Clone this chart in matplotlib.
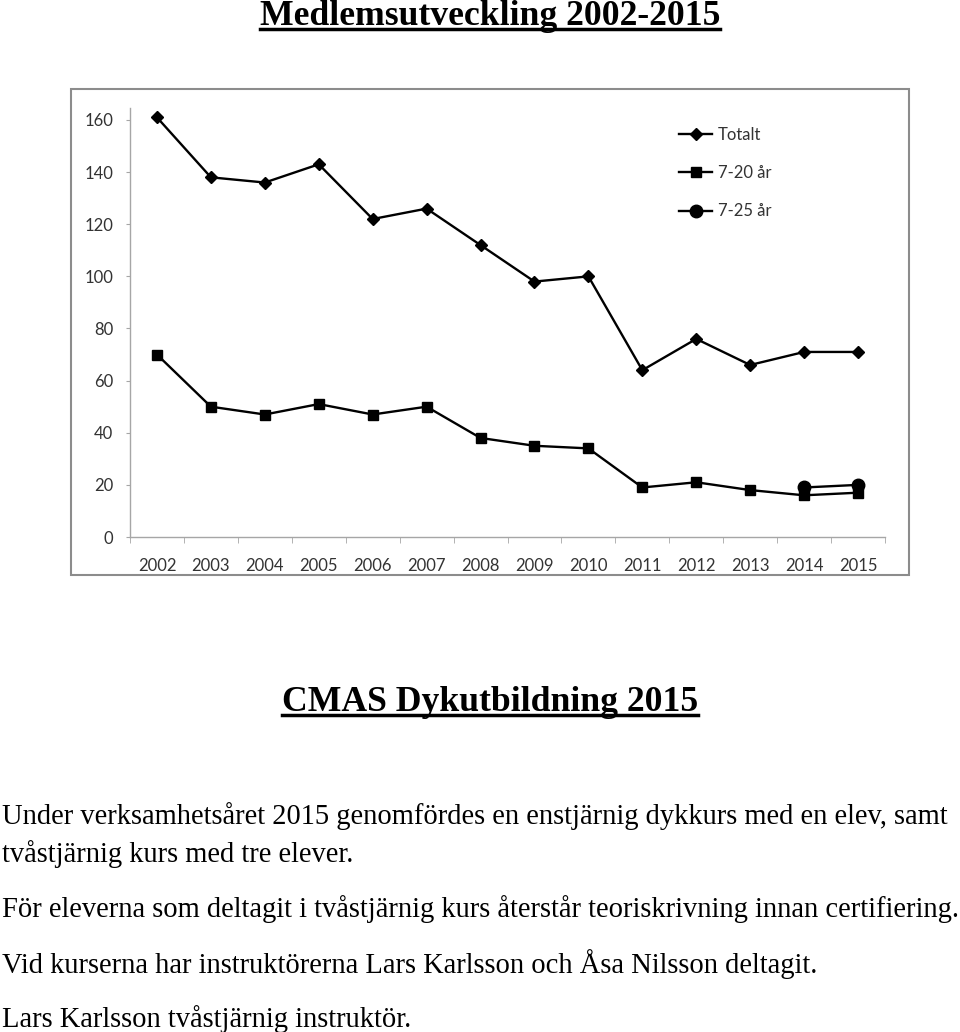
import matplotlib
matplotlib.use("Agg")
import matplotlib.pyplot as plt
from matplotlib.patches import Rectangle
from matplotlib.lines import Line2D

# data
years = [str(y) for y in range(2002, 2016)]
totalt = [161, 138, 136, 143, 122, 126, 112, 98, 100, 64, 76, 66, 71, 71]
ar_7_20 = [70, 50, 47, 51, 47, 50, 38, 35, 34, 19, 21, 18, 16, 17]
ar_7_25_years = ["2014", "2015"]
ar_7_25 = [19, 20]
y_ticks = [0, 20, 40, 60, 80, 100, 120, 140, 160]

title = "Medlemsutveckling 2002-2015"
heading = "CMAS Dykutbildning 2015"
body = [
    "Under verksamhetsåret 2015 genomfördes en enstjärnig dykkurs med en elev, samt",
    "tvåstjärnig kurs med tre elever.",
    "För eleverna som deltagit i tvåstjärnig kurs återstår teoriskrivning innan certifiering.",
    "Vid kurserna har instruktörerna Lars Karlsson och Åsa Nilsson deltagit.",
    "Lars Karlsson tvåstjärnig instruktör.",
]

W, H = 960, 1032
fig = plt.figure(figsize=(9.6, 10.32), dpi=100)


def fx(px):
    return px / W


def fy(py):
    return 1 - py / H


# --- chart frame ---
fig.patches.append(Rectangle((fx(71), fy(575)), fx(909) - fx(71), fy(89) - fy(575),
                             transform=fig.transFigure, fill=False,
                             edgecolor="#8c8c8c", linewidth=1.5))

ax = fig.add_axes([fx(130), fy(537), fx(885) - fx(130), fy(108) - fy(537)])
x = list(range(len(years)))
ax.plot(x, totalt, marker="D", ms=6, color="black", lw=1.7, label="Totalt")
ax.plot(x, ar_7_20, marker="s", ms=7, color="black", lw=1.7, label="7-20 år")
x25 = [years.index(y) for y in ar_7_25_years]
ax.plot(x25, ar_7_25, marker="o", ms=9, color="black", lw=1.7, label="7-25 år")

ax.set_xlim(-0.5, len(years) - 0.5)
ax.set_ylim(0, 164.6)
ax.set_yticks(y_ticks)
ax.set_xticks(x)
ax.set_xticklabels(years)
ax.set_xticks([i - 0.5 for i in range(len(years) + 1)], minor=True)

gray = "#a6a6a6"
for s in ["top", "right"]:
    ax.spines[s].set_visible(False)
for s in ["left", "bottom"]:
    ax.spines[s].set_color(gray)
    ax.spines[s].set_linewidth(1)

ax.tick_params(axis="x", which="major", length=0, pad=15, labelsize=12, labelcolor="#333333")
ax.tick_params(axis="x", which="minor", length=4, color=gray, direction="out")
ax.tick_params(axis="y", length=3, color=gray, pad=9, labelsize=12, labelcolor="#333333")
for lbl in ax.get_xticklabels() + ax.get_yticklabels():
    lbl.set_family("Lato")

leg = ax.legend(loc="upper left", bbox_to_anchor=(fx(679), fy(127)),
                bbox_transform=fig.transFigure, frameon=False, borderpad=0,
                borderaxespad=0, handlelength=2.0, handletextpad=0.35,
                labelspacing=1.33, prop={"family": "Lato", "size": 12})
for t in leg.get_texts():
    t.set_color("#333333")

# --- page text ---
renderer = fig.canvas.get_renderer()


def put_text(s, x_px, base_px, size, bold=False, ha="left"):
    return fig.text(fx(x_px), fy(base_px), s, fontsize=size, family="Liberation Serif",
                    weight="bold" if bold else "normal", ha=ha, va="baseline")


def fit_size(s, width_px, bold=False):
    t = put_text(s, 0, 0, 20, bold)
    w = t.get_window_extent(renderer).width
    t.remove()
    return 20 * width_px / w


def underline(t, base_px, thick=2.5):
    bb = t.get_window_extent(renderer)
    y = fy(base_px + 4)
    fig.add_artist(Line2D([bb.x0 / W, bb.x1 / W], [y, y], transform=fig.transFigure,
                          color="black", lw=thick))


t1 = put_text(title, 490, 25, fit_size(title, 460, True), bold=True, ha="center")
underline(t1, 25)
t2 = put_text(heading, 490, 711, fit_size(heading, 416, True), bold=True, ha="center")
underline(t2, 711)

body_size = fit_size(body[0], 948)
for line, base in zip(body, [824, 862, 917, 973, 1027]):
    put_text(line, 2, base, body_size)

fig.savefig("out.png", dpi=100)
